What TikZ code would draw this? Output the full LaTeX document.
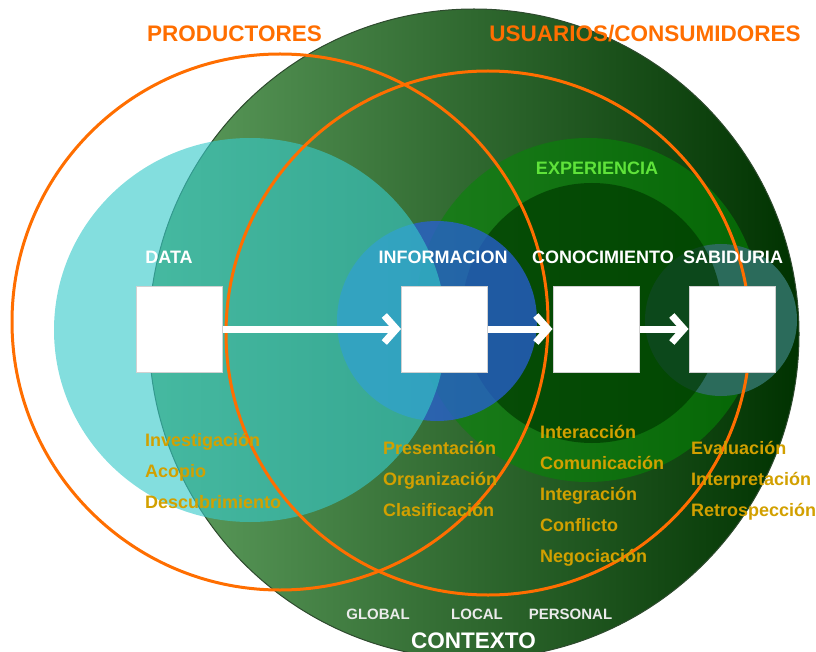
\documentclass[tikz,border=0pt]{standalone}
\usepackage{fontspec}
\setmainfont{Liberation Sans}
\usepackage{tikz}
\usetikzlibrary{arrows.meta, positioning}
\definecolor{naranja}{HTML}{FF6E00}
\definecolor{oro}{HTML}{D2A000}
\definecolor{verdeclaro}{HTML}{5E9E5E}
\definecolor{verdeoscuro}{HTML}{003200}
\definecolor{bordeverde}{HTML}{2E4A2E}
\definecolor{anillo}{HTML}{1B7D1B}
\definecolor{anillooscuro}{HTML}{056605}
\definecolor{nucleo}{HTML}{003A00}
\definecolor{sabio}{HTML}{2B6B5B}
\definecolor{azul}{HTML}{285FD7}
\definecolor{cian}{HTML}{37CACA}
\definecolor{lima}{HTML}{5FE33A}

\begin{document}
\begin{tikzpicture}[x=1pt, y=-1pt,
    >={Straight Barb[length=12pt, width=27pt]},
    caja/.style={draw=white!82!black, line width=1pt, fill=white, minimum width=86pt, minimum height=86pt, inner sep=0pt},
    titulo/.style={text=white, anchor=base, inner sep=0pt, font=\fontsize{18}{20}\selectfont\bfseries},
    grupo/.style={text=naranja, anchor=base, inner sep=0pt, font=\fontsize{22.5}{25}\selectfont\bfseries},
    ambito/.style={text=white!92!black, anchor=base, inner sep=0pt, font=\fontsize{15}{17}\selectfont\bfseries},
    lista/.style={text=oro, anchor=base west, inner sep=0pt, font=\fontsize{18}{20}\selectfont\bfseries},
    flecha/.style={->, white, line width=7pt},
    aro/.style={draw=naranja, line width=3pt}]
  \useasboundingbox (0,0) rectangle (816,652);

  % contexto, experiencia y los tres niveles
  \path[left color=verdeclaro, right color=verdeoscuro, draw=bordeverde, line width=1pt] (474,334) circle[radius=325pt];
  \path[left color=anillo, right color=anillooscuro] (588,310) circle[radius=172pt];
  \path[fill=sabio] (721,320) circle[radius=76pt];
  \path[fill=nucleo, fill opacity=0.7] (592,313) circle[radius=130pt];
  \path[fill=azul, fill opacity=0.75] (437,321) circle[radius=100pt];
  \path[fill=cian, fill opacity=0.62] (250,330) ellipse[x radius=196pt, y radius=192pt];

  \draw[aro] (280,322) circle[radius=268pt];
  \draw[aro] (488,333) circle[radius=262pt];

  \node[caja] (data) at (179.5,329) {};
  \node[caja] (info) at (444.5,329) {};
  \node[caja] (conoc) at (596,329) {};
  \node[caja] (sabid) at (732,329) {};

  \draw[flecha] (data) -- (info);
  \draw[flecha] (info) -- (conoc);
  \draw[flecha] (conoc) -- (sabid);

  \node[titulo] (tdata) at (169,263) {DATA};
  \node[titulo] (tinfo) at (443,263) {INFORMACION};
  \node[titulo] (tconoc) at (603,263) {CONOCIMIENTO};
  \node[titulo] (tsabid) at (733,263) {SABIDURIA};
  \node[titulo, text=lima] (exper) at (597,175) {EXPERIENCIA};

  \node[grupo] (prod) at (234.5,42) {PRODUCTORES};
  \node[grupo] (usua) at (645,42) {USUARIOS/CONSUMIDORES};

  \foreach \t [count=\i] in {Investigación, Acopio, Descubrimiento}
    \node[lista] (ldata\i) at (145,415+31*\i) {\t};
  \foreach \t [count=\i] in {Presentación, Organización, Clasificación}
    \node[lista] (linfo\i) at (383,423+31*\i) {\t};
  \foreach \t [count=\i] in {Interacción, Comunicación, Integración, Conflicto, Negociación}
    \node[lista] (lconoc\i) at (540,408+30.8*\i) {\t};
  \foreach \t [count=\i] in {Evaluación, Interpretación, Retrospección}
    \node[lista] (lsabid\i) at (691,423+31*\i) {\t};

  \node[ambito] (global) at (378,619) {GLOBAL};
  \node[ambito] (local) at (477,619) {LOCAL};
  \node[ambito] (personal) at (570.5,619) {PERSONAL};
  \node[grupo, text=white] (contexto) at (473.5,648) {CONTEXTO};
\end{tikzpicture}
\end{document}
